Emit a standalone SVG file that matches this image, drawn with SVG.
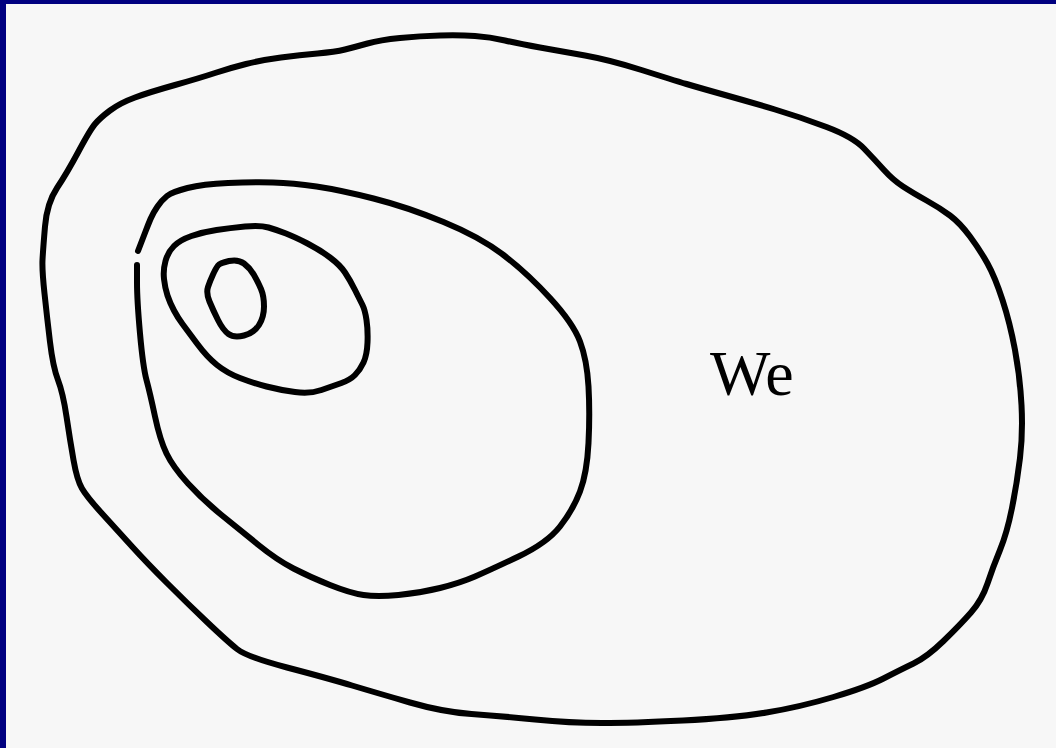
<svg xmlns="http://www.w3.org/2000/svg" width="1056" height="748" viewBox="0 0 1056 748">
<style>
.c{fill:none;stroke:#000;stroke-width:6;stroke-linejoin:round;stroke-linecap:round}
.t{font-family:"Liberation Serif","Times New Roman",serif;font-size:64px;fill:#000}
</style>
<rect x="0" y="0" width="1056" height="748" fill="#F7F7F7"/>
<rect x="0" y="0" width="1056" height="4" fill="#000080"/>
<rect x="0" y="0" width="6" height="748" fill="#000080"/>
<g id="outer">
<path class="c" d="M175,85 Q200,78 215,73 Q230,68 246,64 Q262,60 281,57.5 Q300,55 317.5,53.5 Q335,52 345,49.5 Q355,47 367.5,43.5 Q380,40 400,38 Q420,36 440,35.5 Q460,35 475,36 Q490,37 505,40.5 Q520,44 540,47.5 Q560,51 585,55.5 Q610,60 641.5,70 Q673,80 686.5,84 Q700,88 725,95 Q750,102 775,109.5 Q800,117 826.5,127 Q853,137 864,148.5 Q875,160 884,170 Q893,180 903,186.5 Q913,193 926.5,200.5 Q940,208 950,215.5 Q960,223 970,236.5 Q980,250 987.5,263.5 Q995,277 1002.5,300 Q1010,323 1015,350 Q1020,377 1021.5,405 Q1023,433 1020,458 Q1017,483 1012,508 Q1007,533 1000,550 Q993,567 987.5,583.5 Q982,600 971,612.5 Q960,625 943.5,641 Q927,657 913.5,663.5 Q900,670 883.5,678.5 Q867,687 833.5,697 Q800,707 766.5,712.5 Q733,718 683,720.5 Q633,723 601.5,723 Q570,723 535,719.5 Q500,716 471.5,714 Q443,712 410,702.5 Q377,693 352,685.5 Q327,678 287,667.5 Q247,657 237,649 Q227,641 207,622 Q187,603 167,583 Q147,563 132,546.5 Q117,530 102,513.5 Q87,497 82,488.5 Q77,480 73.5,460 Q70,440 66.5,416.5 Q63,393 58,380 Q53,367 50,342 Q47,317 44.5,293.5 Q42,270 42.5,260 Q43,250 45,226.5 Q47,203 57,188 Q67,173 78.5,151.5 Q90,130 95,124 Q100,118 110,110.5 Q120,103 135,97.5 Q150,92 175,85 Z"/>
</g>
<g id="second">
<path class="c" d="M138,251 L140.5,244.5 Q143,238 145.5,231.5 Q148,225 150.5,219 Q153,213 157.5,206.5 Q162,200 167,196 Q172,192 187.5,188 Q203,184 228,183 Q253,182 273,182.5 Q293,183 316.5,186.5 Q340,190 373.5,198.5 Q407,207 443.5,222 Q480,237 503.5,255 Q527,273 550,298 Q573,323 580,341.5 Q587,360 588.5,386.5 Q590,413 588.5,443 Q587,473 580,491.5 Q573,510 560,526.5 Q547,543 518.5,556.5 Q490,570 475,576.5 Q460,583 440,588 Q420,593 398.5,595 Q377,597 363.5,595 Q350,593 330,585 Q310,577 293.5,568.5 Q277,560 258.5,545 Q240,530 221.5,515 Q203,500 188,483.5 Q173,467 166.5,453.5 Q160,440 155,416.5 Q150,393 146.5,380 Q143,367 140,333.5 Q137,300 137,282.5 L137,265"/>
</g>
<g id="third">
<path class="c" d="M167.5,295.5 Q170,303 174,310.5 Q178,318 182.5,324 Q187,330 197,343.5 Q207,357 217,365 Q227,373 240,378 Q253,383 266.5,386.5 Q280,390 295,392 Q310,394 321.5,390 Q333,386 341.5,383 Q350,380 355,375 Q360,370 363.5,362.5 Q367,355 367.5,342.5 Q368,330 366.5,320 Q365,310 362.5,305 Q360,300 355,290 Q350,280 345,272.5 Q340,265 330,257.5 Q320,250 307.5,243.5 Q295,237 286,233.5 Q277,230 268.5,227.5 Q260,225 245,226.5 Q230,228 216.5,230 Q203,232 191.5,236 Q180,240 174,246 Q168,252 165.5,261 Q163,270 164,279 Q165,288 167.5,295.5 Z"/>
</g>
<g id="inner">
<path class="c" d="M218,265.5 Q220,263 229,261 Q238,259 244,263.5 Q250,268 254,275 Q258,282 261,289 Q264,296 264,306.5 Q264,317 259,325 Q254,333 244,335.5 Q234,338 228.5,334 Q223,330 218,320 Q213,310 209.5,301.5 Q206,293 208,287 Q210,281 213,274.5 Q216,268 218,265.5 Z"/>
</g>
<g id="connectors"></g>
<g id="label">
<text class="t" x="710" y="395">We</text>
</g>
</svg>
